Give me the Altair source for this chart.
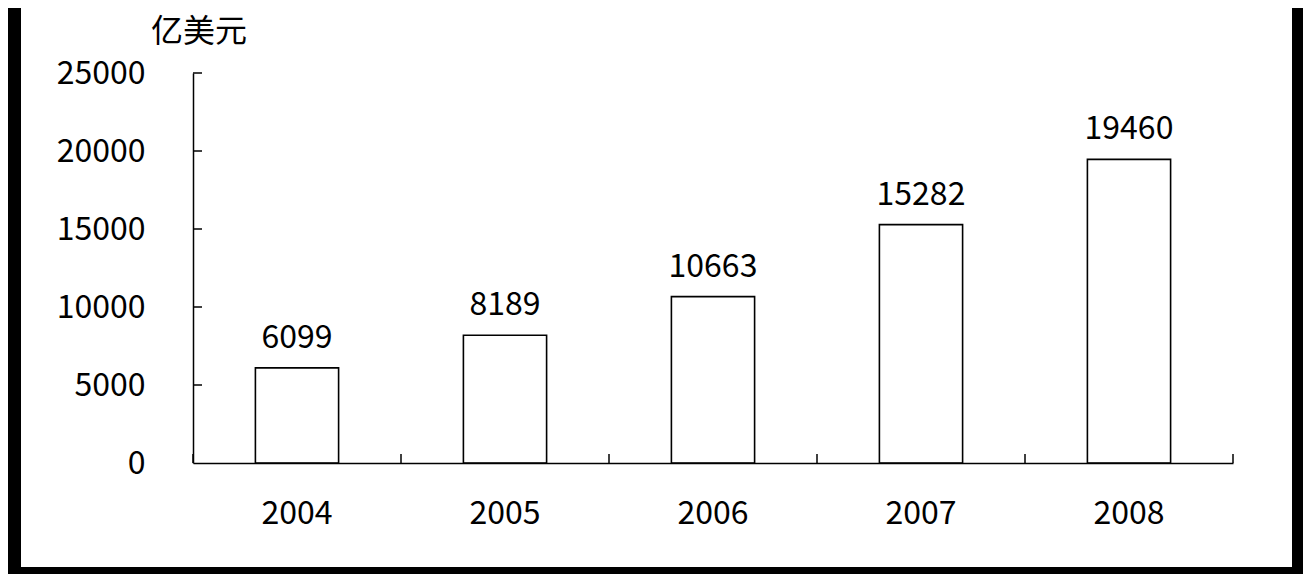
import altair as alt
import pandas as pd

years = ["2004", "2005", "2006", "2007", "2008"]
values = [6099, 8189, 10663, 15282, 19460]
y_ticks = [5000, 10000, 15000, 20000, 25000]
x_bounds = [0, 1, 2, 3, 4, 5]
unit_label = "亿美元"

FONT = "Noto Sans CJK SC"
W, H = 1040, 390

df = pd.DataFrame({"year": years, "value": values})
tick_df = pd.DataFrame({"t": y_ticks})
bound_df = pd.DataFrame({"b": x_bounds})
bg_df = pd.DataFrame({"k": [0]})

x_enc = alt.X(
    "year:N",
    sort=years,
    scale=alt.Scale(paddingInner=0.6, paddingOuter=0.3),
    axis=alt.Axis(
        title=None, labelAngle=0, ticks=False, tickSize=0, domain=True,
        domainColor="black", domainWidth=1.5, labelFont=FONT, labelFontSize=32,
        labelColor="black", labelPadding=35, labelBaseline="top", zindex=2,
    ),
)
y_scale = alt.Scale(domain=[0, 25000], nice=False, zero=True)
y_enc = alt.Y(
    "value:Q",
    scale=y_scale,
    axis=alt.Axis(
        title=None, values=[0] + y_ticks, ticks=False, tickSize=0, grid=False,
        domain=True, domainColor="black", domainWidth=1.5, labelFont=FONT,
        labelFontSize=32, labelColor="black", labelPadding=48,
        format="d", zindex=2,
    ),
)

bg = alt.Chart(bg_df).mark_rect(color="white", opacity=1).encode(
    x=alt.value(-172), x2=alt.value(1099), y=alt.value(-80), y2=alt.value(494)
)

bars = alt.Chart(df).mark_bar(
    fill="white", stroke="black", strokeWidth=1.6
).encode(x=x_enc, y=y_enc)

labels = alt.Chart(df).mark_text(
    font=FONT, fontSize=32, color="black", baseline="alphabetic", dy=-20
).encode(
    x=alt.X("year:N", sort=years),
    y=alt.Y("value:Q", scale=y_scale),
    text=alt.Text("value:Q", format="d"),
)

ytick_rules = alt.Chart(tick_df).mark_rule(color="black", strokeWidth=1.5).encode(
    y=alt.Y("t:Q", scale=y_scale),
    x=alt.value(0),
    x2=alt.value(9),
)

xtick_rules = alt.Chart(bound_df).mark_rule(color="black", strokeWidth=1.5).encode(
    x=alt.X("b:Q", scale=alt.Scale(domain=[0, 5], nice=False, zero=False), axis=None),
    y=alt.value(H),
    y2=alt.value(H - 9),
)

unit_text = alt.Chart(bg_df).mark_text(
    text=unit_label, font=FONT, fontSize=32, color="black",
    align="center", baseline="middle",
).encode(x=alt.value(199 - 193), y=alt.value(32 - 73))

main = alt.layer(bars, labels, ytick_rules)

chart = alt.layer(bg, main, xtick_rules, unit_text).resolve_scale(
    x="independent"
).properties(
    width=W, height=H,
    background="black",
    padding={"left": 185, "top": 65, "right": 70, "bottom": 111},
    autosize=alt.AutoSizeParams(type="none"),
).configure_view(stroke=None)

chart.save("out.html", embed_options={"renderer": "svg", "actions": False})
